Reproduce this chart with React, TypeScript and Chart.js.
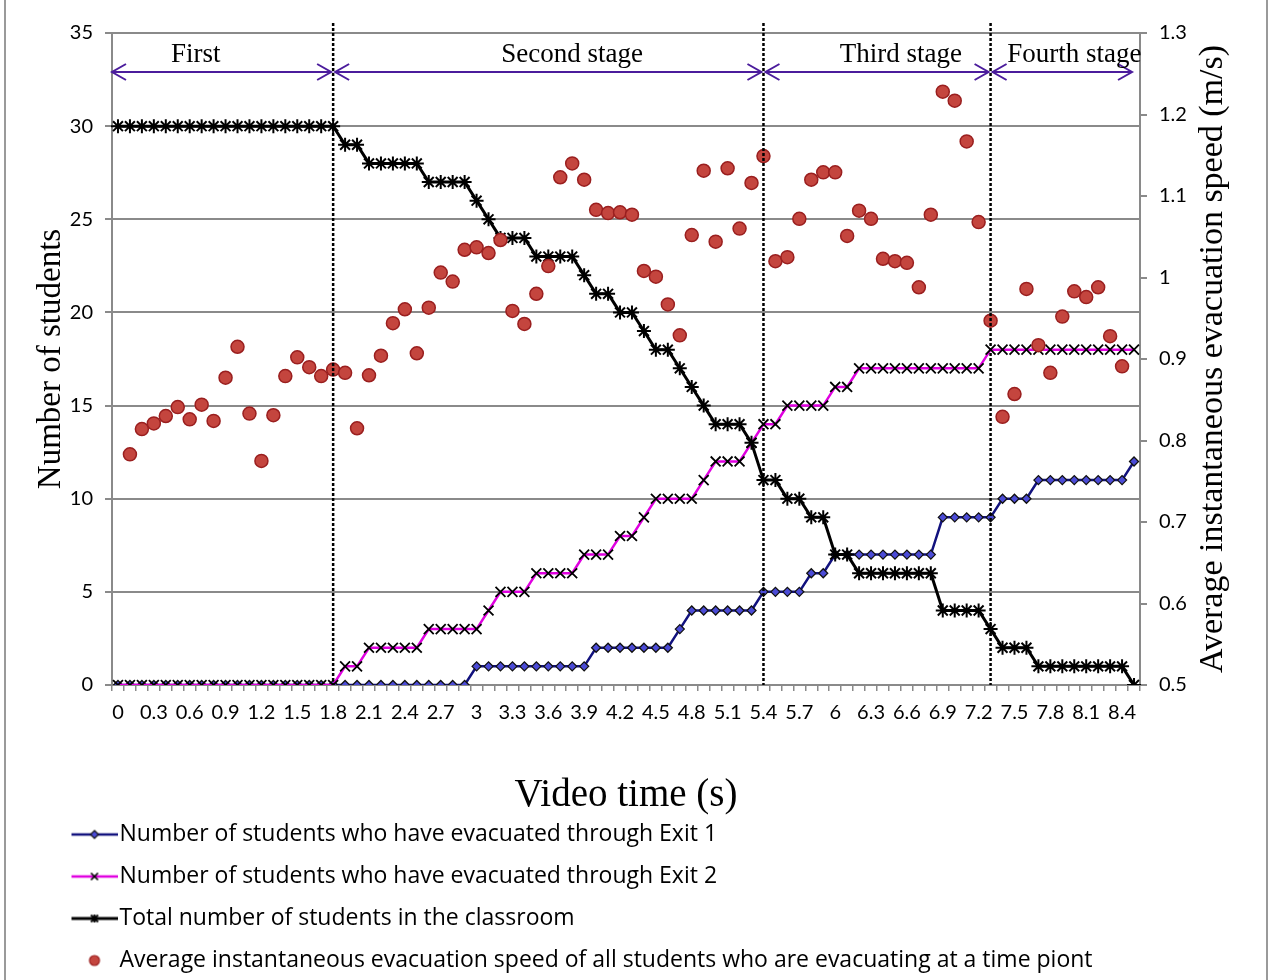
import React, { useEffect, useRef } from 'react';
import { Chart, registerables } from 'chart.js';

Chart.register(...registerables);

// ---------- data ----------
const timeLabels = [
  '0', '0.1', '0.2', '0.3', '0.4', '0.5', '0.6', '0.7', '0.8', '0.9',
  '1', '1.1', '1.2', '1.3', '1.4', '1.5', '1.6', '1.7', '1.8', '1.9',
  '2', '2.1', '2.2', '2.3', '2.4', '2.5', '2.6', '2.7', '2.8', '2.9',
  '3', '3.1', '3.2', '3.3', '3.4', '3.5', '3.6', '3.7', '3.8', '3.9',
  '4', '4.1', '4.2', '4.3', '4.4', '4.5', '4.6', '4.7', '4.8', '4.9',
  '5', '5.1', '5.2', '5.3', '5.4', '5.5', '5.6', '5.7', '5.8', '5.9',
  '6', '6.1', '6.2', '6.3', '6.4', '6.5', '6.6', '6.7', '6.8', '6.9',
  '7', '7.1', '7.2', '7.3', '7.4', '7.5', '7.6', '7.7', '7.8', '7.9',
  '8', '8.1', '8.2', '8.3', '8.4', '8.5',
];

const exit1 = [
  0, 0, 0, 0, 0, 0, 0, 0, 0, 0,
  0, 0, 0, 0, 0, 0, 0, 0, 0, 0,
  0, 0, 0, 0, 0, 0, 0, 0, 0, 0,
  1, 1, 1, 1, 1, 1, 1, 1, 1, 1,
  2, 2, 2, 2, 2, 2, 2, 3, 4, 4,
  4, 4, 4, 4, 5, 5, 5, 5, 6, 6,
  7, 7, 7, 7, 7, 7, 7, 7, 7, 9,
  9, 9, 9, 9, 10, 10, 10, 11, 11, 11,
  11, 11, 11, 11, 11, 12,
];

const exit2 = [
  0, 0, 0, 0, 0, 0, 0, 0, 0, 0,
  0, 0, 0, 0, 0, 0, 0, 0, 0, 1,
  1, 2, 2, 2, 2, 2, 3, 3, 3, 3,
  3, 4, 5, 5, 5, 6, 6, 6, 6, 7,
  7, 7, 8, 8, 9, 10, 10, 10, 10, 11,
  12, 12, 12, 13, 14, 14, 15, 15, 15, 15,
  16, 16, 17, 17, 17, 17, 17, 17, 17, 17,
  17, 17, 17, 18, 18, 18, 18, 18, 18, 18,
  18, 18, 18, 18, 18, 18,
];

const totalInRoom = [
  30, 30, 30, 30, 30, 30, 30, 30, 30, 30,
  30, 30, 30, 30, 30, 30, 30, 30, 30, 29,
  29, 28, 28, 28, 28, 28, 27, 27, 27, 27,
  26, 25, 24, 24, 24, 23, 23, 23, 23, 22,
  21, 21, 20, 20, 19, 18, 18, 17, 16, 15,
  14, 14, 14, 13, 11, 11, 10, 10, 9, 9,
  7, 7, 6, 6, 6, 6, 6, 6, 6, 4,
  4, 4, 4, 3, 2, 2, 2, 1, 1, 1,
  1, 1, 1, 1, 1, 0,
];

const speed = [
  null, 0.783, 0.814, 0.821, 0.830, 0.841, 0.826, 0.844, 0.824, 0.877,
  0.915, 0.833, 0.775, 0.831, 0.879, 0.902, 0.890, 0.879, 0.887, 0.883,
  0.815, 0.880, 0.904, 0.944, 0.961, 0.907, 0.963, 1.006, 0.995, 1.034,
  1.037, 1.030, 1.046, 0.959, 0.943, 0.980, 1.014, 1.123, 1.140, 1.120,
  1.083, 1.079, 1.080, 1.077, 1.008, 1.001, 0.967, 0.929, 1.052, 1.131,
  1.044, 1.134, 1.060, 1.116, 1.149, 1.020, 1.025, 1.072, 1.120, 1.129,
  1.129, 1.051, 1.082, 1.072, 1.023, 1.020, 1.018, 0.988, 1.077, 1.228,
  1.217, 1.167, 1.068, 0.947, 0.829, 0.857, 0.986, 0.917, 0.883, 0.952,
  0.983, 0.976, 0.988, 0.928, 0.891, null,
];

const seriesNames = [
  'Number of students who have evacuated through Exit 1',
  'Number of students who have evacuated through Exit 2',
  'Total number of students in the classroom',
  'Average instantaneous evacuation speed of all students who are evacuating at a time piont',
];

const stageNames = ['First', 'Second stage', 'Third stage', 'Fourth stage'];
const stageEdges = [-0.05, 1.8, 5.4, 7.3, 8.5];
const stageLabelTimes = [0.65, 3.8, 6.55, 8.0];
const dividerTimes = [1.8, 5.4, 7.3];

const leftAxisTitle = 'Number of students';
const rightAxisTitle = 'Average instantaneous evacuation speed (m/s)';
const xAxisTitle = 'Video time (s)';

// ---------- styling ----------
const SANS = 'Lato, "Noto Sans", sans-serif';
const LEGEND_SANS = '"Open Sans", "Noto Sans", sans-serif';
const SERIF = '"Liberation Serif", "Times New Roman", serif';
const GRID = '#8a8a8a';
const NAVY = '#12127e';
const MAGENTA = '#e000e0';
const PURPLE = '#4b1c9c';
const RED_FILL = '#c4453e';
const RED_EDGE = '#9a1f1f';

const CANVAS_W = 1270;
const CANVAS_H = 982;
const LEG_FONT = 23;
const LEG_PAD = 19;
const LEG_BOX = 89;
const ICON_W = 108;
const ICON_H = 20;

function makeIcon(kind: number): HTMLCanvasElement {
  const c = document.createElement('canvas');
  c.width = ICON_W;
  c.height = ICON_H;
  const g = c.getContext('2d') as CanvasRenderingContext2D;
  const cy = ICON_H / 2;
  const x0 = ICON_W - 46;
  const x1 = ICON_W;
  const mx = ICON_W - 23;
  g.lineCap = 'butt';
  if (kind === 0) {
    g.strokeStyle = NAVY; g.lineWidth = 2.5;
    g.beginPath(); g.moveTo(x0, cy); g.lineTo(x1, cy); g.stroke();
    g.beginPath();
    g.moveTo(mx, cy - 4); g.lineTo(mx + 4, cy); g.lineTo(mx, cy + 4); g.lineTo(mx - 4, cy); g.closePath();
    g.fillStyle = '#4b4bd6'; g.fill(); g.strokeStyle = '#111'; g.lineWidth = 1.2; g.stroke();
  } else if (kind === 1) {
    g.strokeStyle = MAGENTA; g.lineWidth = 2.5;
    g.beginPath(); g.moveTo(x0, cy); g.lineTo(x1, cy); g.stroke();
    g.strokeStyle = '#000'; g.lineWidth = 1.6;
    g.beginPath(); g.moveTo(mx - 3.5, cy - 3.5); g.lineTo(mx + 3.5, cy + 3.5);
    g.moveTo(mx + 3.5, cy - 3.5); g.lineTo(mx - 3.5, cy + 3.5); g.stroke();
  } else if (kind === 2) {
    g.strokeStyle = '#000'; g.lineWidth = 3;
    g.beginPath(); g.moveTo(x0, cy); g.lineTo(x1, cy); g.stroke();
    g.lineWidth = 1.8;
    g.beginPath(); g.moveTo(mx - 3.5, cy - 3.5); g.lineTo(mx + 3.5, cy + 3.5);
    g.moveTo(mx + 3.5, cy - 3.5); g.lineTo(mx - 3.5, cy + 3.5);
    g.moveTo(mx, cy - 4); g.lineTo(mx, cy + 4); g.stroke();
  } else {
    g.beginPath(); g.arc(mx, cy, 5, 0, Math.PI * 2);
    g.fillStyle = RED_FILL; g.fill(); g.strokeStyle = RED_EDGE; g.lineWidth = 1.2; g.stroke();
  }
  return c;
}

const stagePlugin = {
  id: 'stageAnnotations',
  afterDatasetsDraw(chart: any) {
    const { ctx, chartArea, scales } = chart;
    const xs = scales.x;
    const px = (t: number) => xs.getPixelForValue(t * 10);
    ctx.save();
    // stage dividers
    ctx.strokeStyle = '#000';
    ctx.lineWidth = 2.5;
    ctx.setLineDash([3, 2]);
    dividerTimes.forEach((t) => {
      const x = px(t);
      ctx.beginPath();
      ctx.moveTo(x, chartArea.top - 10);
      ctx.lineTo(x, chartArea.bottom);
      ctx.stroke();
    });
    ctx.setLineDash([]);
    // double arrows
    const ay = chartArea.top + 39;
    ctx.strokeStyle = PURPLE;
    ctx.lineWidth = 2;
    for (let i = 0; i < stageNames.length; i++) {
      const xa = px(stageEdges[i]) + (i > 0 ? 2 : 0);
      const xb = px(stageEdges[i + 1]) - 2;
      ctx.beginPath();
      ctx.moveTo(xa, ay); ctx.lineTo(xb, ay);
      ctx.moveTo(xa + 14, ay - 8); ctx.lineTo(xa, ay); ctx.lineTo(xa + 14, ay + 8);
      ctx.moveTo(xb - 14, ay - 8); ctx.lineTo(xb, ay); ctx.lineTo(xb - 14, ay + 8);
      ctx.stroke();
    }
    // stage names
    ctx.fillStyle = '#000';
    ctx.font = `27px ${SERIF}`;
    ctx.textAlign = 'center';
    ctx.textBaseline = 'middle';
    stageNames.forEach((n, i) => {
      ctx.fillText(n, px(stageLabelTimes[i]), chartArea.top + 22);
    });
    // right axis title, reading bottom to top
    ctx.translate(chartArea.right + 73, (chartArea.top + chartArea.bottom) / 2);
    ctx.rotate(-Math.PI / 2);
    ctx.font = `34px ${SERIF}`;
    ctx.fillText(rightAxisTitle, 0, 0);
    ctx.restore();
  },
};

export default function App() {
  const ref = useRef<HTMLCanvasElement | null>(null);

  useEffect(() => {
    const canvas = ref.current;
    if (!canvas) return;
    const icons = [0, 1, 2, 3].map((k) => makeIcon(k));

    const chart = new Chart(canvas, {
      type: 'line',
      data: {
        labels: timeLabels,
        datasets: [
          {
            label: seriesNames[0],
            data: exit1,
            yAxisID: 'y',
            borderColor: NAVY,
            borderWidth: 2.5,
            pointStyle: 'rectRot',
            pointRadius: 4.5,
            pointBackgroundColor: '#4b4bd6',
            pointBorderColor: '#111',
            pointBorderWidth: 1.3,
            tension: 0,
            order: 3,
          },
          {
            label: seriesNames[1],
            data: exit2,
            yAxisID: 'y',
            borderColor: MAGENTA,
            borderWidth: 2.5,
            pointStyle: 'crossRot',
            pointRadius: 7,
            pointBorderColor: '#000',
            pointBackgroundColor: '#000',
            pointBorderWidth: 1.8,
            tension: 0,
            order: 2,
          },
          {
            label: seriesNames[2],
            data: totalInRoom,
            yAxisID: 'y',
            borderColor: '#000',
            borderWidth: 3,
            pointStyle: 'star',
            pointRadius: 7,
            pointBorderColor: '#000',
            pointBackgroundColor: '#000',
            pointBorderWidth: 2,
            tension: 0,
            order: 1,
          },
          {
            label: seriesNames[3],
            data: speed,
            yAxisID: 'y1',
            showLine: false,
            pointStyle: 'circle',
            pointRadius: 6.5,
            pointBackgroundColor: RED_FILL,
            pointBorderColor: RED_EDGE,
            pointBorderWidth: 1.5,
            order: 0,
          },
        ],
      },
      options: {
        responsive: false,
        animation: false,
        devicePixelRatio: 1,
        layout: { padding: { top: 33, left: 0, right: 0, bottom: 0 } },
        plugins: {
          tooltip: { enabled: false },
          legend: {
            display: true,
            position: 'bottom',
            align: 'start',
            labels: {
              usePointStyle: true,
              pointStyleWidth: LEG_BOX,
              padding: LEG_PAD,
              color: '#000',
              font: { family: LEGEND_SANS, size: LEG_FONT },
              generateLabels: () =>
                seriesNames.map((name, i) => ({
                  text: name,
                  pointStyle: icons[i],
                  fontColor: '#000',
                  fillStyle: 'rgba(0,0,0,0)',
                  strokeStyle: 'rgba(0,0,0,0)',
                  lineWidth: 0,
                  hidden: false,
                  datasetIndex: i,
                })),
            },
          },
        },
        scales: {
          x: {
            type: 'category',
            offset: true,
            afterFit: (s: any) => { s.height = 119; },
            grid: {
              display: true,
              drawOnChartArea: false,
              drawTicks: true,
              tickLength: 6,
              color: GRID,
              lineWidth: 1.5,
              offset: true,
            },
            border: { display: true, color: GRID, width: 2 },
            ticks: {
              autoSkip: false,
              maxRotation: 0,
              minRotation: 0,
              padding: 10,
              color: '#000',
              font: { family: SANS, size: 20 },
              callback: (_v: any, i: number) => (i % 3 === 0 ? timeLabels[i] : ''),
            },
            title: {
              display: true,
              text: xAxisTitle,
              color: '#000',
              font: { family: SERIF, size: 39, lineHeight: 1 },
              padding: { top: 0, bottom: -11 },
            },
          },
          y: {
            type: 'linear',
            position: 'left',
            min: 0,
            max: 35,
            afterFit: (s: any) => { s.width = 112; },
            grid: { color: GRID, lineWidth: 2, drawTicks: true, tickLength: 7 },
            border: { display: true, color: GRID, width: 2 },
            ticks: {
              stepSize: 5,
              padding: 12,
              color: '#000',
              font: { family: SANS, size: 20 },
            },
            title: {
              display: true,
              text: leftAxisTitle,
              color: '#000',
              font: { family: SERIF, size: 33, lineHeight: 1 },
              padding: { top: 35, bottom: 0 },
            },
          },
          y1: {
            type: 'linear',
            position: 'right',
            min: 0.5,
            max: 1.3,
            afterFit: (s: any) => { s.width = 130; },
            grid: { drawOnChartArea: false, drawTicks: true, tickLength: 7, color: GRID, lineWidth: 2 },
            border: { display: true, color: GRID, width: 2 },
            ticks: {
              stepSize: 0.1,
              padding: 12,
              color: '#000',
              font: { family: SANS, size: 20 },
              callback: (v: any) => String(Number(Number(v).toFixed(1))),
            },
          },
        },
      },
      plugins: [stagePlugin],
    } as any);

    return () => chart.destroy();
  }, []);

  return (
    <div style={{ position: 'fixed', left: 0, top: 0, width: CANVAS_W, height: 980, background: '#fff', overflow: 'hidden' }}>
      <canvas ref={ref} width={CANVAS_W} height={CANVAS_H} style={{ display: 'block', width: CANVAS_W, height: CANVAS_H }} />
      <div
        style={{
          position: 'absolute',
          left: 4,
          top: 0,
          width: 1264,
          height: 980,
          boxSizing: 'border-box',
          borderLeft: '2px solid #9a9a9a',
          borderRight: '2px solid #9a9a9a',
          pointerEvents: 'none',
        }}
      />
    </div>
  );
}
